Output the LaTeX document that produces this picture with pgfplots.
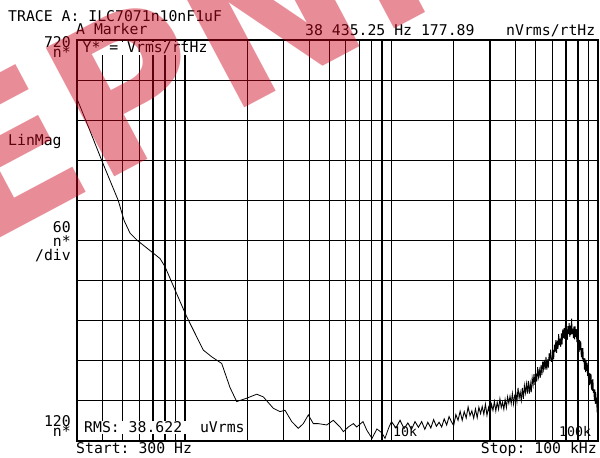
\documentclass[border=0pt]{standalone}
\usepackage{fontspec}
\setmonofont{DejaVu Sans Mono}
\newfontfamily\wmfont{DejaVu Sans}
\usepackage{pgfplots}
\pgfplotsset{compat=1.18}
\definecolor{wmred}{RGB}{205,0,25}
\newcommand\scr{\ttfamily\fontsize{14.8}{15}\selectfont}
\newcommand\scrs{\ttfamily\fontsize{13.3}{14}\selectfont}

\pgfplotstableread{
f v
300 632
350 581
395 540
475 480
507 450
542 431
588 420
677 405
757 393
800 381
895 346
1019 306
1227 256
1347 246
1506 236
1652 200
1780 179
1990 184
2226 190
2395 186
2677 169
2886 164
3051 166
3288 149
3538 139
3741 146
3955 159
4183 146
4420 146
4857 144
5226 151
5634 141
5849 134
6180 141
6534 146
6786 141
7280 149
7600 136
8049 124
8500 138
9000 132
9300 124
9700 140
}\lowband

\pgfplotstableread{
f v
10000 149
10500 139.5
11000 151
11500 138.5
12000 147
12500 137.5
13000 149
13500 140.5
14000 149
14500 137.5
15000 148
15500 139.5
16000 152
16500 142
17000 148
17500 141
18000 153
18500 144
19000 156.5
19500 149
20000 143
20500 159.5
21000 151
21500 164.5
22000 151
22500 164
23000 154.5
23500 171
24000 158
24500 165
25000 154
25500 168
26000 155
26500 170.5
27000 161
27500 171.5
28000 160
28500 175
29000 158.5
29500 170
30000 159
30500 175
31000 166
31500 179
32000 165
32500 178
33000 167.5
33500 183
34000 170
34500 178
35000 167.5
35500 182
36000 170
36500 186
37000 176.5
37500 187
38000 176
38500 191
39000 175.5
39500 188
40000 192
40500 179
41000 199.5
41500 184
42000 193
42500 181
43000 199.5
43500 183
44000 203
44500 192
45000 205.5
45500 191
46000 210
46500 191
47000 205.5
47500 193
48000 214
48500 204
49000 220.5
49500 204
50000 221
50500 209
51000 230.5
51500 216
52000 226
52500 214.5
53000 234
53500 218.5
54000 239
54500 228
55000 241.5
55500 227
56000 246
56500 227
57000 242
57500 230
58000 251
58500 241
59000 256.5
59500 239
60000 239
60500 256
61000 242
61500 264
62000 253
62500 271
63000 252
63500 270
64000 258
64500 280
65000 263.5
65500 273
66000 261
66500 281
67000 264.5
67500 287
68000 274
68500 289
69000 273
69500 293
70000 271
70500 287
71000 271.5
71500 292
72000 280
72500 296.5
73000 276
73500 292.5
74000 279
74500 303
75000 280.5
75500 288
76000 274
76500 291.5
77000 272
77500 291.5
78000 276
78500 287.5
79000 268
79500 284.5
80000 259
80500 272
81000 253.5
81500 271
82000 256
82500 269
83000 245.5
83500 259
84000 242
84500 259
85000 238.5
85500 244
86000 227
86500 243.5
87000 223
87500 241.5
88000 225
88500 237
89000 217.5
89500 234
90000 209
90500 222
91000 203.5
91500 221
92000 206
92500 220
93000 197
93500 211
94000 195
94500 212.5
95000 192
95500 197.5
96000 181
96500 197
97000 175.5
97500 193
98000 176
98500 185
99000 163
99500 177
100000 149
}\highband

\begin{document}
\begin{tikzpicture}[x=1pt,y=1pt]
\begin{axis}[
    at={(77pt,17pt)}, anchor=south west,
    scale only axis, width=521pt, height=401pt,
    xmode=log, xmin=300, xmax=100000, ymin=120, ymax=720,
    xtick={400,500,600,700,800,900,1000,2000,3000,4000,5000,6000,7000,8000,9000,10000,20000,30000,40000,50000,60000,70000,80000,90000},
    ytick={180,240,...,660},
    minor x tick num=0,
    xticklabels={}, yticklabels={},
    grid=major, major grid style={black, line width=1.1pt},
    axis line style={black, line width=1.4pt},
    tick align=inside, major tick length=4pt,
    tick style={black, line width=1.1pt},
    xtick pos=both, ytick pos=both,
]
\addplot[black, line width=0.8pt] table[x=f, y=v] {\lowband};
\addplot[black, line width=0.9pt] table[x=f, y=v] {\highband};
% join the two bands
\addplot[black, line width=0.8pt] coordinates {(9700,140)(10000,149)};
\end{axis}

% screen annotations (pixel coords, y measured from bottom)
\node[anchor=base west, inner sep=0pt, font=\scr] at (8,436) {TRACE A: ILC7071n10nF1uF};
\node[anchor=base west, inner sep=0pt, font=\scr] at (76,423) {A Marker};
\node[anchor=base west, inner sep=0pt, font=\scr] at (305,422) {38 435.25 Hz 177.89};
\node[anchor=base west, inner sep=0pt, font=\scr] at (506,422) {nVrms/rtHz};
\node[anchor=base west, inner sep=0.5pt, fill=white, font=\scr] at (82,405) {Y* = Vrms/rtHz};
\node[anchor=base east, inner sep=0pt, font=\scr] at (71,410) {720};
\node[anchor=base east, inner sep=0pt, font=\scr] at (71,400) {n*};
\node[anchor=base west, inner sep=0pt, font=\scr] at (8,312) {LinMag};
\node[anchor=base east, inner sep=0pt, font=\scr] at (71,225) {60};
\node[anchor=base east, inner sep=0pt, font=\scr] at (71,211) {n*};
\node[anchor=base east, inner sep=0pt, font=\scr] at (71,197) {/div};
\node[anchor=base east, inner sep=0pt, font=\scr] at (71,31) {120};
\node[anchor=base east, inner sep=0pt, font=\scr] at (71,21) {n*};
\node[anchor=base west, inner sep=1pt, fill=white, font=\scr] at (83,25) {RMS: 38.622~~uVrms};
\node[anchor=base west, inner sep=0pt, font=\scrs] at (393,21) {10k};
\node[anchor=base west, inner sep=0pt, font=\scrs] at (559,21) {100k};
\node[anchor=base west, inner sep=0pt, font=\scr] at (76,4) {Start: 300 Hz};
\node[anchor=base east, inner sep=0pt, font=\scr] at (597,4) {Stop: 100 kHz};

% watermark
\node[anchor=base west, inner sep=0pt, rotate=28, text=wmred, text opacity=0.45,
      font=\wmfont\bfseries\fontsize{200}{200}\selectfont] at (-22,208) {EPN.com};

\pgfresetboundingbox
\path[use as bounding box] (0,0) rectangle (600,458);
\end{tikzpicture}
\end{document}
